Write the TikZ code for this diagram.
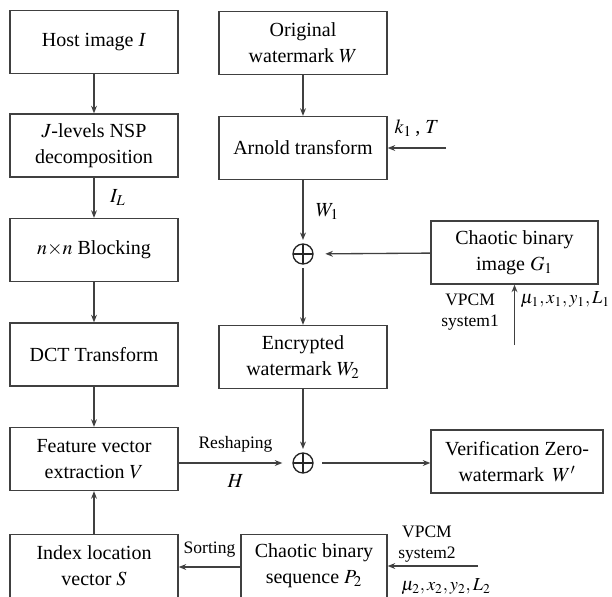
\documentclass[tikz,border=0pt]{standalone}
\usepackage{mathptmx}
\usepackage{fontspec}
\setmainfont{Liberation Serif}
\usetikzlibrary{arrows.meta}

\begin{document}
\begin{tikzpicture}[x=0.6pt,y=-0.6pt,
  line width=0.8pt, draw=black!75,
  >={Stealth[length=4.5pt,width=3.5pt]},
  box/.style={draw=black!75, minimum width=100.8pt, minimum height=37.8pt,
    inner sep=1pt, align=center, font=\fontsize{12}{15.5}\selectfont},
  xor/.style={circle, draw=black!85, minimum size=12pt, inner sep=0pt,
    path picture={\draw[black!85] (path picture bounding box.north) -- (path picture bounding box.south)
      (path picture bounding box.west) -- (path picture bounding box.east);}},
  lbl/.style={font=\fontsize{12}{14}\selectfont},
  small/.style={font=\fontsize{10.5}{13}\selectfont, align=center}]
\clip (0,0) rectangle (612,596);
% left column
\node[box] (host) at (94,42) {Host image \textit{I}};
\node[box] (nsp) at (94,145.5) {$J$-levels NSP\\decomposition};
\node[box] (block) at (94,250) {$n{\times}n$ Blocking};
\node[box] (dct) at (94,354.5) {DCT Transform};
\node[box] (feat) at (94,459) {Feature vector\\extraction $V$};
\node[box] (index) at (94,566) {Index location\\vector $S$};
% middle column
\node[box] (orig) at (303,43) {Original\\watermark $W$};
\node[box] (arnold) at (303,148) {Arnold transform};
\node[xor] (xor1) at (303,254) {};
\node[box] (enc) at (303,357) {Encrypted\\watermark $W_2$};
\node[xor] (xor2) at (303,463) {};
\node[box, minimum width=87.6pt] (seq) at (314,566) {Chaotic binary\\sequence $P_2$};
% right column
\node[box, minimum width=100.2pt] (chaos) at (514.5,252.5) {Chaotic binary\\image $G_1$};
\node[box, minimum width=103.2pt] (verif) at (517,461.5) {Verification Zero-\\watermark \,$W'$};
\coordinate (kin) at (446,148);
\coordinate (vin1) at (514.5,345);
\coordinate (vin2) at (478,566);

\draw[->] (host) -- (nsp);
\draw[->] (nsp) -- node[lbl, right=6pt] {$I_L$} (block);
\draw[->] (block) -- (dct);
\draw[->] (dct) -- (feat);
\draw[->] (index) -- (feat);
\draw[->] (orig) -- (arnold);
\draw[->] (kin) -- node[lbl, above=3pt] {$k_1$\,, $T$} (arnold);
\draw[->, shorten >=2pt] (arnold) -- node[lbl, right=4pt] {$W_1$} (xor1);
\draw[->, shorten >=7pt] (chaos) -- (xor1);
\draw[->] (vin1) -- (chaos);
\node[small, anchor=east] (vpcm1) at (505,312) {VPCM\\system1};
\node[font=\fontsize{11}{13}\selectfont, anchor=west, inner sep=0pt] (par1) at (520,300) {$\mu_1{,}\,x_1{,}\,y_1{,}\,L_1$};
\draw[->, shorten <=2pt] (xor1) -- (enc);
\draw[->, shorten >=2pt] (enc) -- (xor2);
\draw[->, shorten >=6pt] (feat.east |- xor2) -- node[small, above=3pt] {Reshaping} node[lbl, below=3pt] {$H$} (xor2);
\draw[->, shorten <=5pt] (xor2) -- (verif.west |- xor2);
\draw[->] (seq.west |- 0,567) -- node[small, above=2pt] {Sorting} (index.east |- 0,567);
\draw[->] (vin2) -- (seq);
\node[small] (vpcm2) at (427,544) {VPCM\\system2};
\node[font=\fontsize{11}{13}\selectfont, inner sep=0pt] (par2) at (446,587) {$\mu_2{,}\,x_2{,}\,y_2{,}\,L_2$};
\end{tikzpicture}
\end{document}
